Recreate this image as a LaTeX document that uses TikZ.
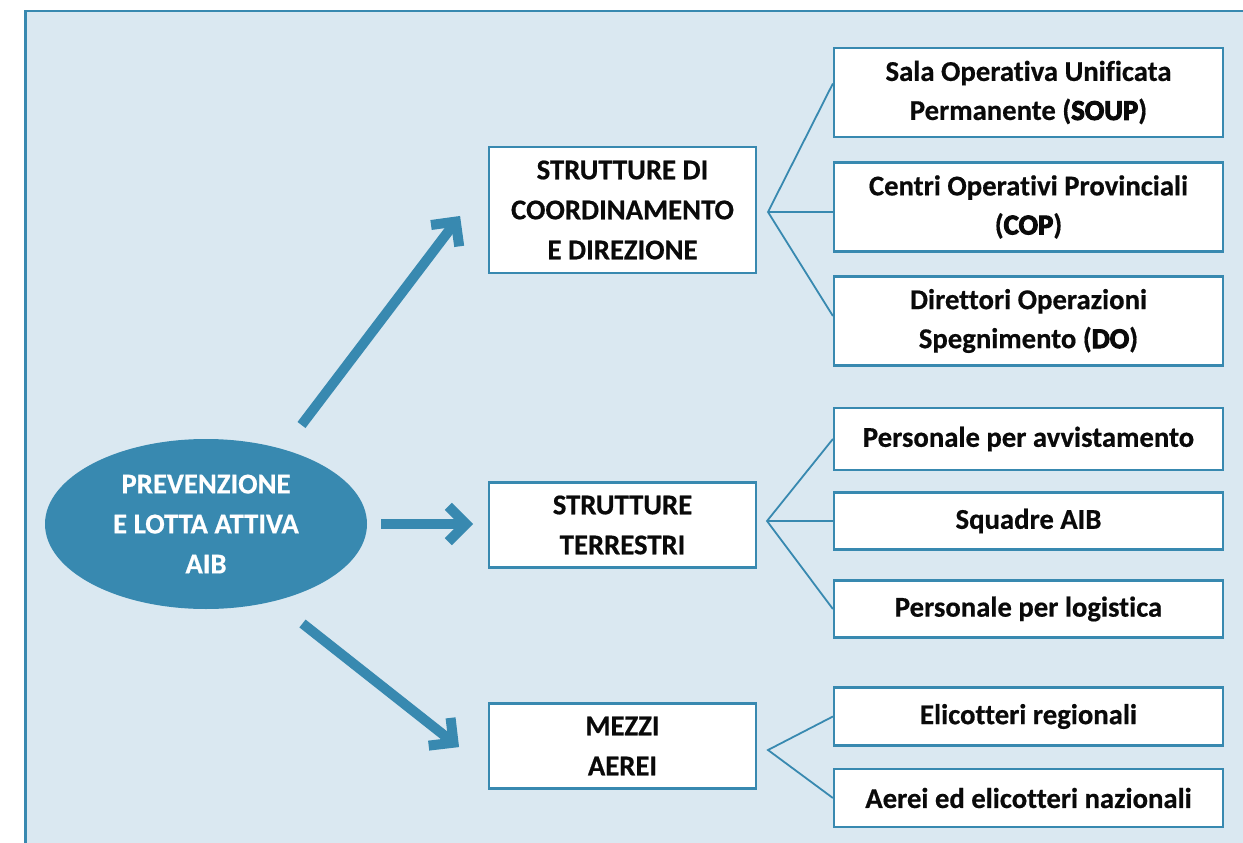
\documentclass[tikz,border=0pt]{standalone}
\usepackage{fontspec}
\setmainfont{Carlito}[Ligatures=NoCommon, BoldFeatures={FakeBold=0.5}]
\newfontface\heavyface{Carlito Bold}[Ligatures=NoCommon, FakeBold=3.5]
\usetikzlibrary{shapes.geometric,calc}
\definecolor{aibblue}{RGB}{56,137,176}
\definecolor{aibbg}{RGB}{218,232,241}
\definecolor{txt}{RGB}{10,10,10}
\tikzset{
  mid/.style={draw=aibblue, line width=2.2pt, fill=white, minimum width=267, minimum height=#1, inner sep=0pt, align=center, text=txt, font=\fontsize{28.7}{40}\selectfont\bfseries},
  leaf/.style={draw=aibblue, line width=2.2pt, fill=white, minimum width=389, minimum height=#1, inner sep=0pt, align=center, text=txt, font=\fontsize{28.7}{39}\selectfont\bfseries},
  fan/.style={draw=aibblue, line width=1.8pt},
  shaft/.style={draw=aibblue, line width=10pt, line cap=butt},
  barb/.style={draw=aibblue, line width=10pt, line cap=butt, line join=miter}
}
\newcommand{\hv}[1]{{\heavyface #1}}
\begin{document}
\begin{tikzpicture}[x=1pt,y=-1pt]
\useasboundingbox (0,0) rectangle (1243,843);
\clip (0,0) rectangle (1243,843);
\fill[white] (0,0) rectangle (1243,843);
\draw[aibblue, fill=aibbg, line width=2.5pt] (25.3,11.2) rectangle (1260,860);

% central ellipse
\node[ellipse, fill=aibblue, minimum width=322, minimum height=170, inner sep=0pt, align=center, text=white, font=\fontsize{28.7}{40}\selectfont\bfseries] (ell) at (206,524) {PREVENZIONE\\E LOTTA ATTIVA\\AIB};

% middle boxes
\node[mid=126] (b1) at (622.5,210) {STRUTTURE DI\\COORDINAMENTO\\E DIREZIONE};
\node[mid=85] (b2) at (622.5,525) {STRUTTURE\\TERRESTRI};
\node[mid=85] (b3) at (622.5,746) {MEZZI\\AEREI};

% leaf boxes
\node[leaf=89] (r1) at (1028.5,92.5) {Sala Operativa Unificata\\Permanente (\hv{SOUP})};
\node[leaf=89] (r2) at (1028.5,207) {Centri Operativi Provinciali\\(\hv{COP})};
\node[leaf=89] (r3) at (1028.5,321) {Direttori Operazioni\\Spegnimento (\hv{DO})};
\node[leaf=62] (r4) at (1028.5,439) {Personale per avvistamento};
\node[leaf=57] (r5) at (1028.5,521) {Squadre AIB};
\node[leaf=57] (r6) at (1028.5,609) {Personale per logistica};
\node[leaf=58] (r7) at (1028.5,716.5) {Elicotteri regionali};
\node[leaf=58] (r8) at (1028.5,798) {Aerei ed elicotteri nazionali};

% fan connectors
\coordinate (f1) at (768,212);
\coordinate (f2) at (767,521);
\coordinate (f3) at (768,750);
\draw[fan] ($(r1.west)+(0,-9)$) -- (f1) -- ($(r3.west)+(0,-5)$);
\draw[fan] (f1) -- ($(r2.west)+(0,5)$);
\draw[fan] (r4.west) -- (f2) -- (r6.west);
\draw[fan] (f2) -- (r5.west);
\draw[fan] (r7.west) -- (f3) -- (r8.west);

% thick arrows
\coordinate (s1) at (301.5,425);
\coordinate (t1) at (455.8,221.6);
\coordinate (s2) at (381,524);
\coordinate (t2) at (466,524);
\coordinate (s3) at (302.5,623.5);
\coordinate (t3) at (453.5,742.7);
\draw[shaft] (s1) -- (t1);
\draw[barb] ($(t1)!25pt!45:(s1)$) -- (t1) -- ($(t1)!25pt!-45:(s1)$);
\draw[shaft] (s2) -- (t2);
\draw[barb] ($(t2)!25pt!45:(s2)$) -- (t2) -- ($(t2)!25pt!-45:(s2)$);
\draw[shaft] (s3) -- (t3);
\draw[barb] ($(t3)!25pt!45:(s3)$) -- (t3) -- ($(t3)!25pt!-45:(s3)$);
\end{tikzpicture}
\end{document}
